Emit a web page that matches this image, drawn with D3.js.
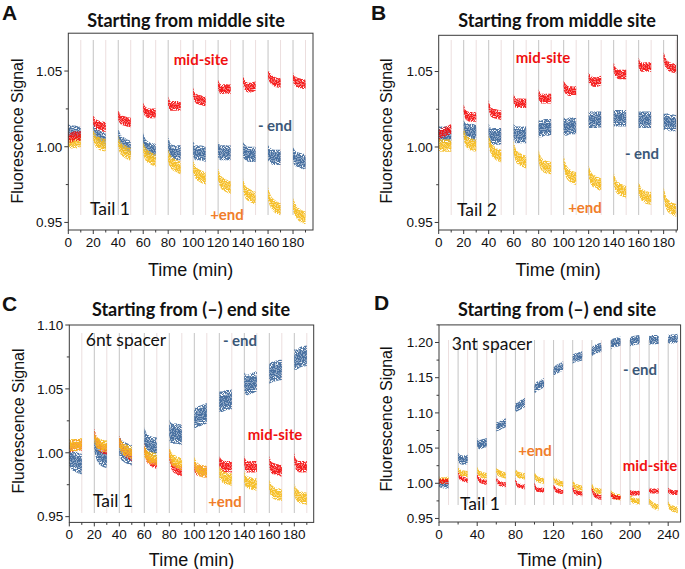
<!DOCTYPE html>
<html><head><meta charset="utf-8">
<script src="https://cdn.jsdelivr.net/npm/d3@7/dist/d3.min.js"></script>
<style>
html,body{margin:0;padding:0;background:#fff;}
svg{display:block;}
</style></head>
<body>
<script>
// ---------- DATA ----------
const segStartsABC = [0, 20, 40, 60, 80, 100, 120, 140, 160, 180];
const segStartsD = [0, 20, 40, 60, 80, 100, 120, 140, 160, 180, 200, 220, 240];
const segOffsets = [0, 2, 5, 10]; // minutes into each 10-min recording

// Panel A (Tail 1, starting from middle site)
const aMid = [[1.006,1.006,1.007,1.007],[1.018,1.015,1.014,1.013],[1.021,1.018,1.017,1.016],[1.026,1.023,1.022,1.022],[1.030,1.027,1.027,1.027],[1.036,1.032,1.031,1.030],[1.041,1.038,1.038,1.038],[1.044,1.040,1.039,1.040],[1.048,1.045,1.043,1.042],[1.046,1.043,1.042,1.041]];
const aMinus = [[1.010,1.009,1.009,1.008],[1.011,1.008,1.006,1.004],[1.007,1.003,1.001,0.999],[1.005,1.000,0.998,0.997],[1.002,0.997,0.996,0.996],[0.999,0.996,0.996,0.995],[0.998,0.996,0.996,0.996],[0.998,0.996,0.995,0.995],[0.996,0.994,0.993,0.993],[0.995,0.992,0.991,0.990]];
const aPlus = [[1.003,1.003,1.003,1.004],[1.008,1.004,1.002,1.001],[1.003,0.999,0.997,0.995],[0.999,0.995,0.993,0.991],[0.994,0.990,0.988,0.986],[0.987,0.983,0.981,0.979],[0.982,0.977,0.975,0.973],[0.975,0.970,0.968,0.966],[0.969,0.964,0.961,0.959],[0.962,0.958,0.955,0.953]];

// Panel B (Tail 2, starting from middle site)
const bMid = [[1.008,1.009,1.010,1.012],[1.025,1.021,1.020,1.020],[1.028,1.023,1.022,1.021],[1.032,1.029,1.029,1.029],[1.035,1.032,1.032,1.032],[1.041,1.038,1.037,1.037],[1.046,1.044,1.043,1.044],[1.053,1.049,1.048,1.048],[1.056,1.053,1.053,1.053],[1.060,1.055,1.053,1.052]];
const bMinus = [[1.008,1.008,1.008,1.008],[1.012,1.010,1.010,1.009],[1.010,1.007,1.007,1.007],[1.010,1.008,1.008,1.008],[1.012,1.012,1.013,1.013],[1.014,1.013,1.014,1.014],[1.018,1.018,1.018,1.018],[1.019,1.019,1.019,1.019],[1.018,1.018,1.018,1.018],[1.017,1.017,1.016,1.016]];
const bPlus = [[1.002,1.001,1.001,1.001],[1.009,1.004,1.002,1.001],[1.004,0.999,0.996,0.994],[1.000,0.994,0.992,0.990],[0.994,0.989,0.987,0.986],[0.990,0.984,0.981,0.979],[0.984,0.979,0.977,0.975],[0.979,0.974,0.972,0.970],[0.973,0.969,0.967,0.966],[0.969,0.963,0.960,0.958]];

// Panel C (Tail 1, 6nt spacer, starting from (-) end site)
const cMid = [[1.005,1.005,1.006,1.006],[1.015,1.008,1.005,1.003],[1.009,1.004,1.001,0.998],[1.003,0.997,0.994,0.992],[0.999,0.991,0.988,0.986],[0.989,0.987,0.986,0.985],[0.993,0.990,0.989,0.989],[0.993,0.989,0.989,0.989],[0.993,0.988,0.987,0.986],[0.996,0.990,0.989,0.989]];
const cMinus = [[0.998,0.995,0.993,0.991],[1.010,1.002,0.998,0.996],[1.005,1.002,1.000,0.998],[1.012,1.007,1.005,1.004],[1.018,1.015,1.015,1.014],[1.026,1.028,1.029,1.031],[1.040,1.040,1.041,1.042],[1.055,1.053,1.054,1.056],[1.062,1.063,1.064,1.065],[1.073,1.073,1.075,1.076]];
const cPlus = [[1.006,1.006,1.006,1.007],[1.013,1.008,1.006,1.005],[1.008,1.004,1.002,1.000],[1.002,0.998,0.996,0.995],[1.000,0.995,0.993,0.991],[0.992,0.988,0.986,0.985],[0.985,0.982,0.980,0.979],[0.981,0.977,0.976,0.975],[0.974,0.970,0.968,0.967],[0.971,0.967,0.965,0.964]];

// Panel D (Tail 1, 3nt spacer, starting from (-) end site)
const dMid = [[1.003,1.003,1.003,1.003],[1.014,1.008,1.006,1.004],[1.011,1.005,1.003,1.001],[1.007,1.001,0.999,0.998],[1.004,0.998,0.996,0.995],[0.998,0.992,0.991,0.990],[0.996,0.991,0.989,0.988],[0.993,0.988,0.986,0.985],[0.992,0.985,0.982,0.980],[0.984,0.981,0.980,0.980],[0.987,0.986,0.986,0.986],[0.991,0.989,0.989,0.989],[0.990,0.988,0.987,0.987]];
const dMinus = [[1.000,1.000,0.999,0.999],[1.038,1.034,1.033,1.034],[1.058,1.055,1.056,1.058],[1.080,1.081,1.083,1.086],[1.107,1.109,1.111,1.115],[1.133,1.137,1.139,1.143],[1.158,1.161,1.163,1.167],[1.176,1.178,1.179,1.181],[1.187,1.189,1.191,1.193],[1.197,1.199,1.200,1.202],[1.201,1.202,1.203,1.204],[1.203,1.204,1.204,1.204],[1.205,1.205,1.205,1.206]];
const dPlus = [[1.005,1.004,1.004,1.005],[1.020,1.015,1.014,1.013],[1.019,1.014,1.012,1.010],[1.018,1.015,1.013,1.011],[1.016,1.013,1.011,1.010],[1.011,1.007,1.005,1.004],[1.006,1.003,1.001,0.999],[1.000,0.996,0.994,0.992],[0.996,0.991,0.989,0.988],[0.986,0.983,0.981,0.980],[0.980,0.977,0.975,0.974],[0.976,0.971,0.968,0.966],[0.970,0.966,0.964,0.962]];

// Noise half-width of each trace (signal units)
const spreadA = {minus: 0.005, plus: 0.0042, mid: 0.0032};
const spreadB = {minus: 0.0055, plus: 0.0042, mid: 0.0032};
const spreadC = {minus: 0.008, plus: 0.0048, mid: 0.0045};
const spreadD = {minus: 0.0065, plus: 0.0045, mid: 0.0035};

const yTicksAB = [0.95, 1.00, 1.05];
const yTicksC = [0.95, 1.00, 1.05, 1.10];
const yTicksD = [0.95, 1.00, 1.05, 1.10, 1.15, 1.20];
const xTicksABC = [0, 20, 40, 60, 80, 100, 120, 140, 160, 180];
const xTicksD = [0, 40, 80, 120, 160, 200, 240];

// ---------- STYLE ----------
const W = 685, H = 569;
const COL = {mid: "#f41414", minus: "#3f6a9c", plus: "#f5bd22"};
const TXT = {mid: "#f01010", minus: "#3b5878", plus: "#f07d2a"};
const ANN = "Lato, 'Open Sans', sans-serif";
const AX = "'Liberation Sans', Arial, sans-serif";

const svg = d3.select("body").append("svg").attr("width", W).attr("height", H);
const defs = svg.append("defs");
const filt = defs.append("filter").attr("id","speckle").attr("x","-5%").attr("y","-20%").attr("width","110%").attr("height","140%");
filt.append("feTurbulence").attr("type","fractalNoise").attr("baseFrequency","0.85").attr("numOctaves",1).attr("seed",7).attr("result","n");
filt.append("feColorMatrix").attr("in","n").attr("type","matrix")
  .attr("values","0 0 0 0 0  0 0 0 0 0  0 0 0 0 0  9 0 0 0 -3.6").attr("result","m");
filt.append("feComposite").attr("in","SourceGraphic").attr("in2","m").attr("operator","in");

const panels = [
  {letter:"A", lx:2, ly:20, title:"Starting from middle site", tx:186, ty:27,
   xr:[68.3,313], xd:[0,196], yr:[230,33.2], yd:[0.945,1.075],
   xticks:xTicksABC, xminor:10, yticks:yTicksAB, yminor:0.025, starts:segStartsABC,
   series:[["minus",aMinus],["plus",aPlus],["mid",aMid]], spread:spreadA,
   vl:[40,215], ylabX:23, ylabY:131, xlabY:276,
   ann:[["mid-site","mid",201,65,true],["- end","minus",275,131,true],["+end","plus",227,220,true],["Tail 1","black",110,215,false]]},
  {letter:"B", lx:371, ly:20, title:"Starting from middle site", tx:557, ty:27,
   xr:[438.7,677.4], xd:[0,191], yr:[230,35.3], yd:[0.945,1.074],
   xticks:xTicksABC, xminor:10, yticks:yTicksAB, yminor:0.025, starts:segStartsABC,
   series:[["minus",bMinus],["plus",bPlus],["mid",bMid]], spread:spreadB,
   vl:[40,215], ylabX:392, ylabY:131, xlabY:276,
   ann:[["mid-site","mid",543,63,true],["- end","minus",642,159,true],["+end","plus",585,213,true],["Tail 2","black",477,216,false]]},
  {letter:"C", lx:2, ly:311, title:"Starting from (\u2013) end site", tx:191, ty:316,
   xr:[69.3,313.7], xd:[0,195.5], yr:[522.4,325], yd:[0.9455,1.10],
   xticks:xTicksABC, xminor:10, yticks:yTicksC, yminor:0.025, starts:segStartsABC,
   series:[["minus",cMinus],["mid",cMid],["plus",cPlus]], spread:spreadC,
   vl:[333,513], ylabX:24, ylabY:421, xlabY:566,
   ann:[["6nt spacer","black",126,346,false],["- end","minus",240,346,true],["mid-site","mid",275,440,true],["+end","plus",225,507,true],["Tail 1","black",113,507,false]]},
  {letter:"D", lx:374, ly:310, title:"Starting from (\u2013) end site", tx:557, ty:316,
   xr:[439,680.6], xd:[0,253], yr:[522,324.9], yd:[0.945,1.225],
   xticks:xTicksD, xminor:20, yticks:yTicksD, yminor:0.025, starts:segStartsD,
   series:[["minus",dMinus],["plus",dPlus],["mid",dMid]], spread:spreadD,
   vl:[340,505], ylabX:392, ylabY:419, xlabY:566,
   ann:[["3nt spacer","black",492,350,false],["- end","minus",640,375,true],["+end","plus",535,456,true],["mid-site","mid",650,471,true],["Tail 1","black",480,510,false]]}
];

panels.forEach(p => {
  const g = svg.append("g");
  const x = d3.scaleLinear().domain(p.xd).range(p.xr);
  const y = d3.scaleLinear().domain(p.yd).range(p.yr);
  const [x0,x1] = p.xr, [yb,yt] = p.yr;

  // guide lines at each recording start/end
  p.starts.forEach(s => {
    if (s > 0) g.append("line").attr("x1",x(s)).attr("x2",x(s)).attr("y1",p.vl[0]).attr("y2",p.vl[1])
      .attr("stroke","#c4c4c4").attr("stroke-width",1);
    g.append("line").attr("x1",x(s+10)).attr("x2",x(s+10)).attr("y1",p.vl[0]).attr("y2",p.vl[1])
      .attr("stroke","#ecdede").attr("stroke-width",1);
  });

  // data traces
  const area = d3.area().x(d=>x(d.t)).y0(d=>y(d.v - d.s)).y1(d=>y(d.v + d.s)).curve(d3.curveMonotoneX);
  p.series.forEach(([key, segs]) => {
    const sg = g.append("g");
    segs.forEach((vals, i) => {
      const pts = vals.map((v,j) => ({t: p.starts[i] + segOffsets[j], v, s: p.spread[key]}));
      const inner = vals.map((v,j) => ({t: p.starts[i] + segOffsets[j], v, s: p.spread[key]*0.55}));
      sg.append("path").attr("d", area(pts)).attr("fill", COL[key]).attr("opacity",0.9).attr("filter","url(#speckle)");
      sg.append("path").attr("d", area(inner)).attr("fill", COL[key]).attr("opacity",0.55);
    });
  });

  // frame
  g.append("rect").attr("x",x0).attr("y",yt).attr("width",x1-x0).attr("height",yb-yt)
    .attr("fill","none").attr("stroke","#3a3a3a").attr("stroke-width",1);

  // y ticks (major + minor halfway)
  const yMinorVals = [];
  p.yticks.forEach((v,k) => {
    if (v + p.yminor < p.yd[1]) yMinorVals.push(v + p.yminor);
    if (k === 0 && v - p.yminor > p.yd[0]) yMinorVals.push(v - p.yminor);
  });
  p.yticks.forEach(v => {
    g.append("line").attr("x1",x0-4).attr("x2",x0).attr("y1",y(v)).attr("y2",y(v)).attr("stroke","#3a3a3a");
    g.append("text").attr("x",x0-6).attr("y",y(v)+4.8).attr("text-anchor","end")
      .attr("font-family",AX).attr("font-size",13.5).attr("fill","#111").text(v.toFixed(2));
  });
  yMinorVals.forEach(v => {
    g.append("line").attr("x1",x0-2.5).attr("x2",x0).attr("y1",y(v)).attr("y2",y(v)).attr("stroke","#3a3a3a");
  });
  // x ticks
  p.xticks.forEach(v => {
    g.append("line").attr("x1",x(v)).attr("x2",x(v)).attr("y1",yb).attr("y2",yb+4).attr("stroke","#3a3a3a");
    g.append("text").attr("x",x(v)).attr("y",yb+16.5).attr("text-anchor","middle")
      .attr("font-family",AX).attr("font-size",13.5).attr("fill","#111").text(v);
    const m = v + p.xminor;
    if (m < p.xd[1]) g.append("line").attr("x1",x(m)).attr("x2",x(m)).attr("y1",yb).attr("y2",yb+2.5).attr("stroke","#3a3a3a");
  });

  // axis titles
  g.append("text").attr("transform",`translate(${p.ylabX},${p.ylabY}) rotate(-90)`).attr("text-anchor","middle")
    .attr("font-family",AX).attr("font-size",16).attr("fill","#111").text("Fluorescence Signal");
  g.append("text").attr("x",(x0+x1)/2).attr("y",p.xlabY).attr("text-anchor","middle")
    .attr("font-family",AX).attr("font-size",18).attr("fill","#111").text("Time (min)");

  // panel title and letter
  g.append("text").attr("x",p.tx).attr("y",p.ty).attr("text-anchor","middle")
    .attr("font-family",ANN).attr("font-weight","bold").attr("font-size",18).attr("fill","#111").text(p.title);
  g.append("text").attr("x",p.lx).attr("y",p.ly).attr("font-family",AX).attr("font-weight","bold")
    .attr("font-size",21).attr("fill","#111").text(p.letter);

  // annotations
  p.ann.forEach(([t,key,ax,ay,bold]) => {
    g.append("text").attr("x",ax).attr("y",ay).attr("text-anchor","middle")
      .attr("font-family",ANN).attr("font-weight",bold?"bold":"normal")
      .attr("font-size",bold?15:17.5).attr("fill",key==="black"?"#111":TXT[key]).text(t);
  });
});
</script>
</body></html>
